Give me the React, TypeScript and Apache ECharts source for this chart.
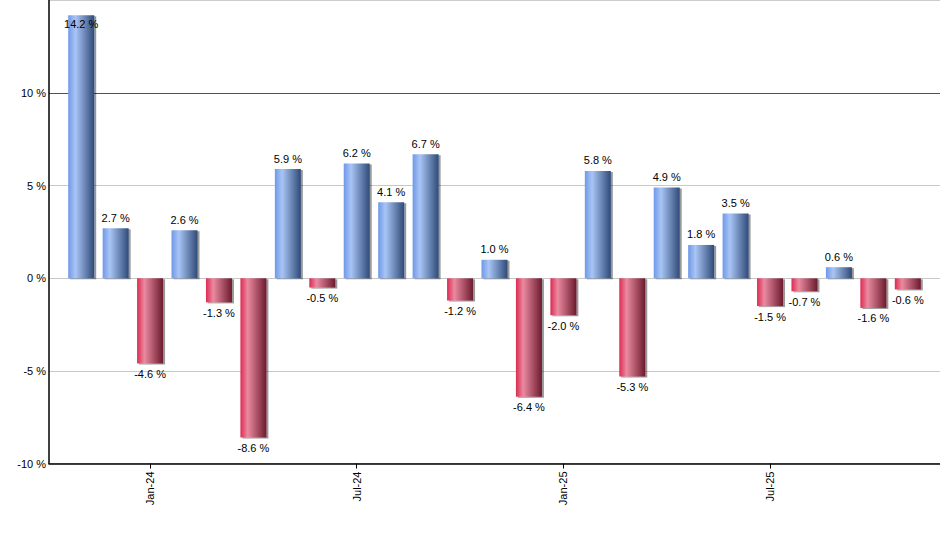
import { useEffect, useRef } from "react";
import * as echarts from "echarts";

// Monthly returns, Nov-23 .. Nov-25
const MONTHS = [
  "Nov-23", "Dec-23", "Jan-24", "Feb-24", "Mar-24", "Apr-24", "May-24", "Jun-24", "Jul-24",
  "Aug-24", "Sep-24", "Oct-24", "Nov-24", "Dec-24", "Jan-25", "Feb-25", "Mar-25", "Apr-25",
  "May-25", "Jun-25", "Jul-25", "Aug-25", "Sep-25", "Oct-25", "Nov-25",
];
const RETURNS = [
  14.2, 2.7, -4.6, 2.6, -1.3, -8.6, 5.9, -0.5, 6.2, 4.1, 6.7, -1.2, 1.0,
  -6.4, -2.0, 5.8, -5.3, 4.9, 1.8, 3.5, -1.5, -0.7, 0.6, -1.6, -0.6,
];
// months that get a tick + label on the x axis (Jan / Jul)
const LABELLED = [2, 8, 14, 20];
const Y_TICKS = [-10, -5, 0, 5, 10, 15];

const FONT = "'Liberation Sans', Arial, sans-serif";

const BLUE = {
  type: "linear", x: 0, y: 0, x2: 1, y2: 0,
  colorStops: [
    { offset: 0, color: "#6f98e8" },
    { offset: 0.28, color: "#a9c5f5" },
    { offset: 1, color: "#2f4a78" },
  ],
};
const RED = {
  type: "linear", x: 0, y: 0, x2: 1, y2: 0,
  colorStops: [
    { offset: 0, color: "#dc2a52" },
    { offset: 0.28, color: "#ea8aa0" },
    { offset: 1, color: "#6c1a2e" },
  ],
};

// half a category of padding plus ~15px either side of the bars
const PAD = 0.935;

export default function App() {
  const boxRef = useRef<HTMLDivElement>(null);

  useEffect(() => {
    document.body.style.margin = "0";
    if (!boxRef.current) return;
    const chart = echarts.init(boxRef.current, undefined, { renderer: "svg" });

    const data = RETURNS.map((v, i) => ({
      value: [i, v],
      itemStyle: { color: v >= 0 ? BLUE : RED },
      label: {
        position: v > 14 ? "insideTop" : v >= 0 ? "top" : "bottom",
        distance: v > 14 ? 3 : 5,
      },
    }));

    chart.setOption({
      animation: false,
      textStyle: { fontFamily: FONT },
      grid: { left: 49, right: 0, top: 0.5, bottom: 86.5, containLabel: false },
      xAxis: {
        type: "value",
        min: -PAD,
        max: RETURNS.length - 1 + PAD,
        splitLine: { show: false },
        axisLine: { show: true, onZero: false, lineStyle: { color: "#000", width: 1.5 } },
        axisTick: { show: true, length: 5, lineStyle: { color: "#000" }, customValues: LABELLED },
        axisLabel: {
          customValues: LABELLED,
          rotate: 90,
          margin: 8,
          color: "#000",
          fontSize: 11,
          fontFamily: FONT,
          formatter: (v: number) => MONTHS[Math.round(v)] ?? "",
        },
      },
      yAxis: {
        type: "value",
        min: Y_TICKS[0],
        max: Y_TICKS[Y_TICKS.length - 1],
        interval: 5,
        axisLine: { show: true, onZero: false, lineStyle: { color: "#000", width: 1.5 } },
        axisTick: { show: false },
        axisLabel: {
          margin: 3,
          color: "#000",
          fontSize: 11,
          fontFamily: FONT,
          formatter: (v: number) => (v === 15 ? "" : `${v} %`),
        },
        splitLine: {
          show: true,
          lineStyle: {
            color: ["#c8c8c8", "#c8c8c8", "#c8c8c8", "#c8c8c8", "#1d781d", "#cccccc"],
            width: 1,
          },
        },
      },
      series: [
        {
          type: "bar",
          barWidth: 26,
          data,
          itemStyle: {
            shadowColor: "rgba(0,0,0,0.4)",
            shadowOffsetX: 2,
            shadowOffsetY: 1,
            shadowBlur: 0,
          },
          label: {
            show: true,
            color: "#000",
            fontSize: 11,
            fontFamily: FONT,
            formatter: (p: any) => `${Number(p.value[1]).toFixed(1)} %`,
          },
        },
      ],
    });

    return () => chart.dispose();
  }, []);

  return <div ref={boxRef} style={{ width: 940, height: 550 }} />;
}
